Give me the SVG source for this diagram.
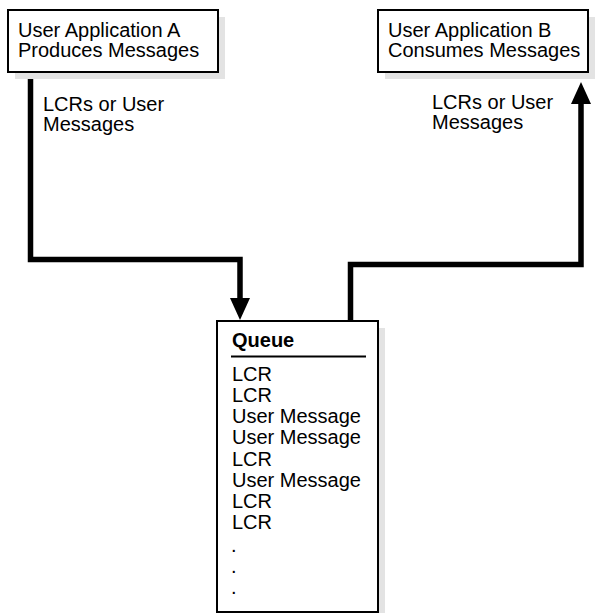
<svg xmlns="http://www.w3.org/2000/svg" width="601" height="613" viewBox="0 0 601 613">
<style>
.shadow{fill:#e3e3e3;stroke:none}
.box{fill:#fff;stroke:#000;stroke-width:2}
.t{font-family:"Liberation Sans",Arial,Helvetica,sans-serif;font-size:20px;fill:#000}
.b{font-weight:bold}
.conn{fill:none;stroke:#000;stroke-width:5.5;stroke-linejoin:miter}
</style>
<defs>
<marker id="arrow" viewBox="0 0 22 20" refX="0" refY="10" markerWidth="22" markerHeight="20" markerUnits="userSpaceOnUse" orient="auto">
<path d="M0,0 L22,10 L0,20 Z" fill="#000"/>
</marker>
</defs>
<g id="connectors">
<path class="conn" d="M30.5,72 V259.5 H240 V298" marker-end="url(#arrow)"/>
<path class="conn" d="M350.5,321 V264.5 H581 V104" marker-end="url(#arrow)"/>
</g>
<g id="appA">
<rect class="shadow" x="15" y="17" width="210" height="62"/>
<rect class="box" x="8" y="10" width="210" height="62"/>
<text class="t" x="18" y="37">User Application A</text>
<text class="t" x="18" y="57">Produces Messages</text>
</g>
<g id="appB">
<rect class="shadow" x="385" y="17" width="210" height="62"/>
<rect class="box" x="378" y="10" width="210" height="62"/>
<text class="t" x="388" y="37">User Application B</text>
<text class="t" x="388" y="57">Consumes Messages</text>
</g>
<g id="labelA">
<text class="t" x="43" y="111">LCRs or User</text>
<text class="t" x="43" y="131">Messages</text>
</g>
<g id="labelB">
<text class="t" x="432" y="109">LCRs or User</text>
<text class="t" x="432" y="129">Messages</text>
</g>
<g id="queue">
<rect class="shadow" x="224" y="328" width="161" height="291"/>
<rect class="box" x="217" y="321" width="161" height="291"/>
<text class="t b" x="232" y="347">Queue</text>
<line x1="231" y1="356.5" x2="366" y2="356.5" stroke="#000" stroke-width="2"/>
<text class="t" x="232" y="381">LCR</text>
<text class="t" x="232" y="402">LCR</text>
<text class="t" x="232" y="423">User Message</text>
<text class="t" x="232" y="444">User Message</text>
<text class="t" x="232" y="466">LCR</text>
<text class="t" x="232" y="487">User Message</text>
<text class="t" x="232" y="508">LCR</text>
<text class="t" x="232" y="529">LCR</text>
<text class="t" x="231" y="552">.</text>
<text class="t" x="231" y="573">.</text>
<text class="t" x="231" y="594">.</text>
</g>
</svg>
